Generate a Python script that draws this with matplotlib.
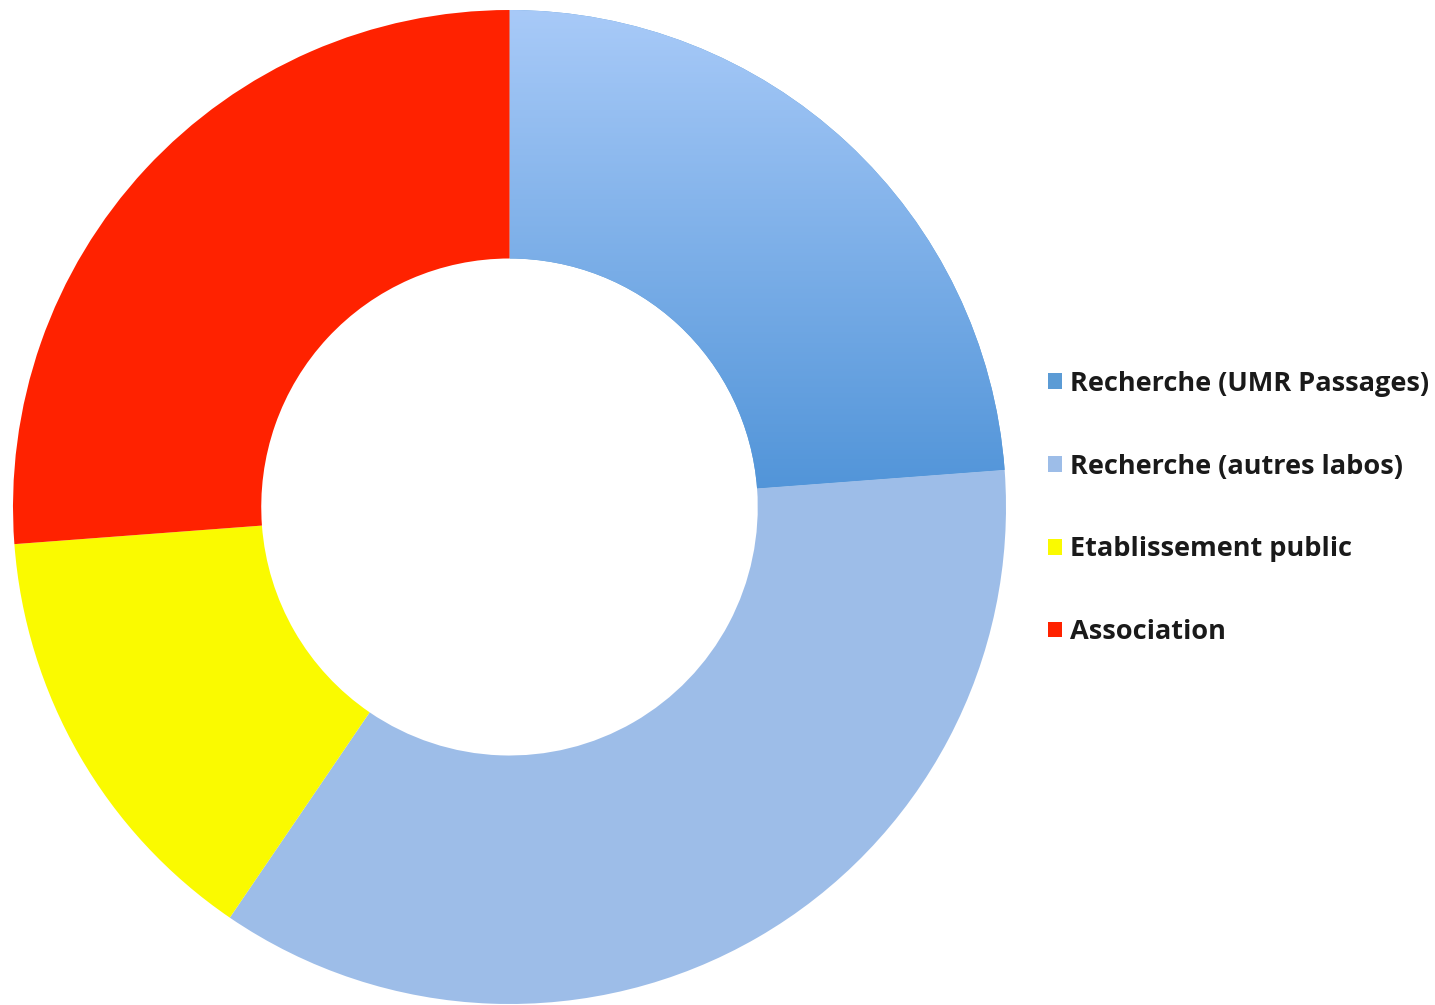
import matplotlib.pyplot as plt
import numpy as np
from matplotlib.colors import LinearSegmentedColormap

labels = ['Recherche (UMR Passages)', 'Recherche (autres labos)',
          'Etablissement public', 'Association']
counts = [10, 15, 6, 11]
colors = ['#6fa6e2', '#9dbde8', '#fafa00', '#ff2200']

fig = plt.figure(figsize=(14.35, 10.05), dpi=100)
ax = fig.add_axes([13 / 1435, 1 - 1004 / 1005, 993 / 1435, 994 / 1005])

wedges, _ = ax.pie(counts, colors=colors, startangle=90, counterclock=False,
                   radius=1.0, wedgeprops=dict(width=0.5, linewidth=0))
ax.set_aspect('equal')
ax.axis('off')

# vertical gradient on the first wedge
grad = LinearSegmentedColormap.from_list('g', ['#4a90d6', '#a8caf8'])
img = ax.imshow(np.linspace(0, 1, 256).reshape(-1, 1), cmap=grad,
                extent=[0, 1, -0.05, 1], origin='lower', aspect='auto', zorder=3)
img.set_clip_path(wedges[0])
wedges[0].set_facecolor('#5b9bd5')
ax.set_xlim(-1, 1)
ax.set_ylim(-1, 1)

leg = fig.legend(wedges, labels, loc='center left',
                 bbox_to_anchor=(1048 / 1435, 1 - 508 / 1005),
                 frameon=False, prop={'family': 'Open Sans', 'weight': 'bold', 'size': 19.5},
                 handlelength=0.5, handleheight=0.5, handletextpad=0.3,
                 labelspacing=2.1, borderaxespad=0, borderpad=0)
for t in leg.get_texts():
    t.set_color('#1a1a1a')

fig.savefig('out.png', dpi=100)
